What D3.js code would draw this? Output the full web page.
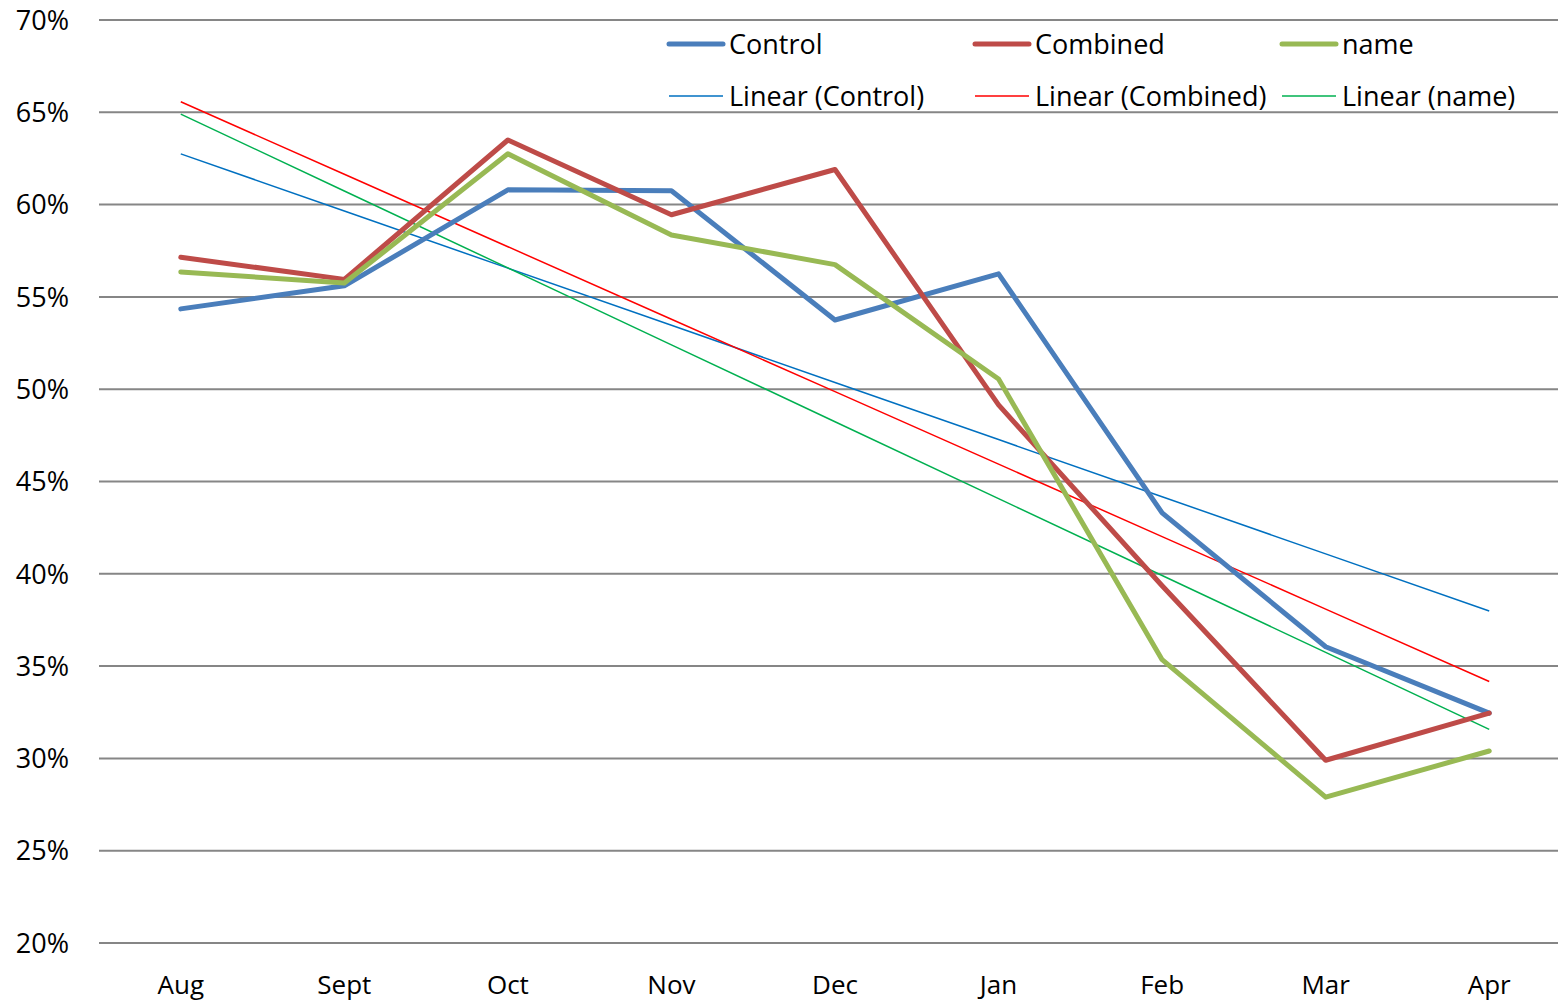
<!DOCTYPE html>
<html>
<head>
<meta charset="utf-8">
<script src="https://cdn.jsdelivr.net/npm/d3@7"></script>
<style>
    body { margin: 0; background: #fff; }
    svg { display: block; }
</style>
</head>
<body>
<div class="chart"></div>
<script>
const months = ['Aug', 'Sept', 'Oct', 'Nov', 'Dec', 'Jan', 'Feb', 'Mar', 'Apr'];
const control = [54.35, 55.6, 60.8, 60.75, 53.75, 56.25, 43.3, 36.05, 32.45];
const combined = [57.15, 55.95, 63.5, 59.45, 61.9, 49.15, 39.35, 29.9, 32.45];
const nameSeries = [56.35, 55.75, 62.75, 58.35, 56.75, 50.55, 35.35, 27.9, 30.4];
const yTicks = [20, 25, 30, 35, 40, 45, 50, 55, 60, 65, 70];

const series = [
    {key: 'Control', values: control, color: '#4a7ebb', trendColor: '#0070c0'},
    {key: 'Combined', values: combined, color: '#be4b48', trendColor: '#ff0000'},
    {key: 'name', values: nameSeries, color: '#98b954', trendColor: '#00b050'},
];

const dimensions = {
    width: 1558,
    height: 1003,
    margin: {left: 99, right: -13, top: 20, bottom: 60}
};

const svg = d3.select('.chart').append('svg')
    .attr('width', dimensions.width)
    .attr('height', dimensions.height);

const x = d3.scaleBand()
    .domain(months)
    .range([dimensions.margin.left, dimensions.width - dimensions.margin.right]);

const y = d3.scaleLinear()
    .domain([20, 70])
    .range([dimensions.height - dimensions.margin.bottom, dimensions.margin.top]);

const xc = m => x(m) + x.bandwidth() / 2;

// gridlines
svg.append('g')
    .selectAll('line')
    .data(yTicks)
    .join('line')
    .attr('x1', dimensions.margin.left)
    .attr('x2', dimensions.width)
    .attr('y1', d => y(d))
    .attr('y2', d => y(d))
    .attr('stroke', '#868686')
    .attr('stroke-width', 2);

// y labels
svg.append('g')
    .style('font', '27px "Open Sans", sans-serif')
    .selectAll('text')
    .data(yTicks)
    .join('text')
    .attr('x', 69)
    .attr('y', d => y(d))
    .attr('dy', '0.36em')
    .attr('text-anchor', 'end')
    .attr('fill', '#000')
    .text(d => d + '%');

// x labels
svg.append('g')
    .style('font', '26px "Open Sans", sans-serif')
    .selectAll('text')
    .data(months)
    .join('text')
    .attr('x', d => xc(d))
    .attr('y', 994)
    .attr('text-anchor', 'middle')
    .attr('fill', '#000')
    .text(d => d);

// linear trend (least squares over month index)
const trend = values => {
    const xs = values.map((_, i) => i);
    const mx = d3.mean(xs), my = d3.mean(values);
    const slope = d3.sum(xs, (xi, i) => (xi - mx) * (values[i] - my)) / d3.sum(xs, xi => (xi - mx) ** 2);
    return values.map((_, i) => my + slope * (i - mx));
};

const line = d3.line()
    .x((d, i) => xc(months[i]))
    .y(d => y(d));

svg.append('g')
    .selectAll('path')
    .data(series)
    .join('path')
    .attr('d', s => line(trend(s.values)))
    .attr('fill', 'none')
    .attr('stroke', s => s.trendColor)
    .attr('stroke-width', 1.5);

svg.append('g')
    .selectAll('path')
    .data(series)
    .join('path')
    .attr('d', s => line(s.values))
    .attr('fill', 'none')
    .attr('stroke', s => s.color)
    .attr('stroke-width', 5)
    .attr('stroke-linejoin', 'round')
    .attr('stroke-linecap', 'round');

// legend
const legendX = [669, 975, 1282];
const legend = svg.append('g')
    .style('font', '27px "Open Sans", sans-serif');

series.forEach((s, i) => {
    const g = legend.append('g').attr('transform', `translate(${legendX[i]},0)`);
    g.append('line')
        .attr('x1', 0).attr('x2', 54).attr('y1', 44).attr('y2', 44)
        .attr('stroke', s.color).attr('stroke-width', 5).attr('stroke-linecap', 'round');
    g.append('text').attr('x', 60).attr('y', 44).attr('dy', '0.36em').text(s.key);
    g.append('line')
        .attr('x1', 0).attr('x2', 54).attr('y1', 96).attr('y2', 96)
        .attr('stroke', s.trendColor).attr('stroke-width', 1.5);
    g.append('text').attr('x', 60).attr('y', 96).attr('dy', '0.36em').text(`Linear (${s.key})`);
});
</script>
</body>
</html>
